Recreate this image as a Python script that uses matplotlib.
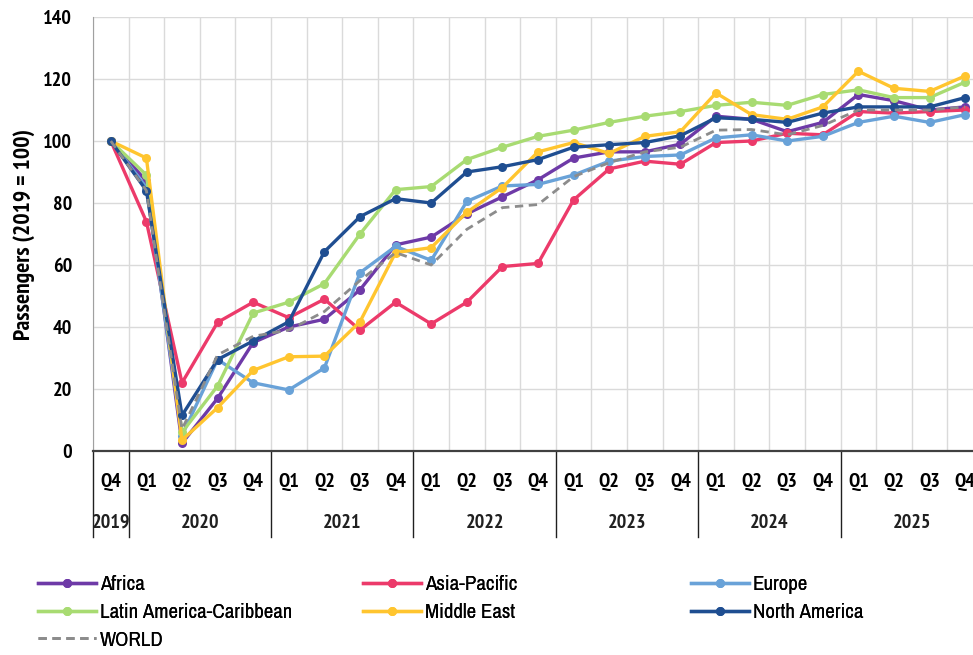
import matplotlib
matplotlib.use("Agg")
import matplotlib.pyplot as plt
from matplotlib import font_manager
from matplotlib.lines import Line2D

# Quarterly passenger index by region (2019 = 100), Q4 2019 .. Q4 2025
quarters = ["Q4"] + ["Q1", "Q2", "Q3", "Q4"] * 6
years = ["2019", "2020", "2021", "2022", "2023", "2024", "2025"]

africa = [100, 87, 2.5, 17, 35, 40, 42.5, 52, 66.5, 69, 76.5, 82, 87.5,
          94.5, 96.5, 96.5, 99, 108, 107, 103, 106, 115, 113, 110, 111]
asia_pacific = [100, 74, 22, 41.5, 48, 43, 49, 39, 48, 41, 48, 59.5, 60.5,
                81, 91, 93.5, 92.5, 99.5, 100, 102.5, 102, 109.5, 109, 109.5, 110]
europe = [100, 85, 5, 29.5, 22, 19.7, 26.8, 57.5, 66, 61.5, 80.5, 85.5, 86,
          89, 93.5, 95, 95.5, 101, 102, 100, 101.5, 106, 108, 106, 108.5]
latin_america = [100, 89, 6, 21, 44.5, 48, 54, 70, 84.3, 85.3, 94, 98, 101.5,
                 103.5, 106, 108, 109.5, 111.5, 112.5, 111.5, 115, 116.5, 114, 114, 119]
middle_east = [100, 94.5, 3.5, 14, 26, 30.4, 30.6, 41.7, 64, 65.6, 77, 85, 96.5,
               99.5, 96, 101.5, 103, 115.5, 108.5, 107, 111, 122.5, 117, 116, 121]
north_america = [100, 84, 11.5, 29.5, 35.5, 41.7, 64.3, 75.6, 81.4, 80, 90, 91.7, 94,
                 98, 98.8, 99.5, 101.7, 107.5, 107, 106, 109, 111, 111, 111, 114]
world = [100, 84, 7, 31, 37, 39, 45, 55, 64, 60, 71.5, 78.5, 79.5,
         88.5, 93, 96.5, 98, 103.5, 103.7, 102, 105, 110, 110, 110, 111]

series = [
    ("Africa", africa, "#6E3AA7"),
    ("Asia-Pacific", asia_pacific, "#EC3A6A"),
    ("Europe", europe, "#69A2D8"),
    ("Latin America-Caribbean", latin_america, "#A8DB72"),
    ("Middle East", middle_east, "#FFC52F"),
    ("North America", north_america, "#1F4E91"),
]


def _w(f):
    w = f.weight
    return w if isinstance(w, int) else font_manager.weight_dict.get(w, 400)


def narrow_family(bold):
    names = {f.name for f in font_manager.fontManager.ttflist
             if ("narrow" in f.name.lower() or "condensed" in f.name.lower())
             and ((_w(f) >= 600) if bold else (350 <= _w(f) <= 450))}
    if not names:
        return None
    return sorted(names, key=lambda n: ("narrow" not in n.lower(), n))[0]


# the source uses a narrow face: bold for the axes, regular for the legend
bold_face = narrow_family(True)
regular_face = narrow_family(False) or bold_face
if bold_face:
    plt.rcParams["font.family"] = [bold_face, "DejaVu Sans"]
else:
    plt.rcParams["font.family"] = ["DejaVu Sans"]
    plt.rcParams["font.stretch"] = "condensed"
legend_font = {"family": [regular_face or "DejaVu Sans", "DejaVu Sans"],
               "size": 15, "weight": "normal"}

fig = plt.figure(figsize=(9.73, 6.55), dpi=100)
ax = fig.add_axes([93 / 973, 1 - 451 / 655, 890 / 973, 434 / 655])

x = list(range(len(quarters)))
handles = {}
for name, vals, color in series:
    h, = ax.plot(x, vals, color=color, lw=2.4, marker="o", ms=6.5,
                 markeredgewidth=0, label=name, zorder=3)
    handles[name] = h
h, = ax.plot(x, world, color="#8C8C8C", lw=2, ls=(0, (3, 2)), label="WORLD", zorder=4)
handles["WORLD"] = h

ax.set_xlim(-0.5, len(quarters) - 0.5)
ax.set_ylim(0, 140)
ax.set_yticks(range(0, 141, 20))
ax.set_yticklabels([str(v) for v in range(0, 141, 20)], fontsize=14.5, fontweight="bold")
ax.set_xticks(x)
ax.set_xticklabels(quarters, fontsize=14.5, fontweight="bold")
ax.set_xticks([i + 0.5 for i in x[:-1]] + [-0.5], minor=True)
ax.tick_params(axis="x", which="both", length=0, pad=16)
ax.tick_params(axis="y", length=0, pad=15)
ax.grid(axis="y", color="#DADADA", lw=1)
ax.grid(axis="x", which="minor", color="#DADADA", lw=1)
ax.set_axisbelow(True)
for s in ["top", "right"]:
    ax.spines[s].set_visible(False)
ax.spines["left"].set_color("#A0A0A0")
ax.spines["bottom"].set_color("#404040")
ax.spines["bottom"].set_linewidth(1.6)

ax.set_ylabel("Passengers (2019 = 100)", fontsize=17, fontweight="bold", labelpad=6)

# year separators and labels below the quarter labels
trans = ax.get_xaxis_transform()
for b in [-0.5, 0.5, 4.5, 8.5, 12.5, 16.5, 20.5]:
    ax.add_line(Line2D([b, b], [0, -0.198], transform=trans, color="#202020",
                       lw=1, clip_on=False))
year_pos = [0, 2.5, 6.5, 10.5, 14.5, 18.5, 22.5]
for xp, yr in zip(year_pos, years):
    ax.text(xp, -0.165, yr, transform=trans, ha="center", va="center",
            fontsize=14.5, fontweight="bold", color="#202020")

# legend in three columns, row-major order as in the source
cols = [["Africa", "Latin America-Caribbean", "WORLD"],
        ["Asia-Pacific", "Middle East"],
        ["Europe", "North America"]]
col_x = [32 / 973, 357 / 973, 685 / 973]
for names, cx in zip(cols, col_x):
    leg = fig.legend([handles[n] for n in names], names, loc="upper left",
                     bbox_to_anchor=(cx, 1 - 569 / 655), frameon=False,
                     prop=legend_font, handlelength=2.75, handletextpad=0.2,
                     labelspacing=0.42, borderaxespad=0, borderpad=0.3)
    fig.add_artist(leg)

fig.savefig("out.png", dpi=100)
